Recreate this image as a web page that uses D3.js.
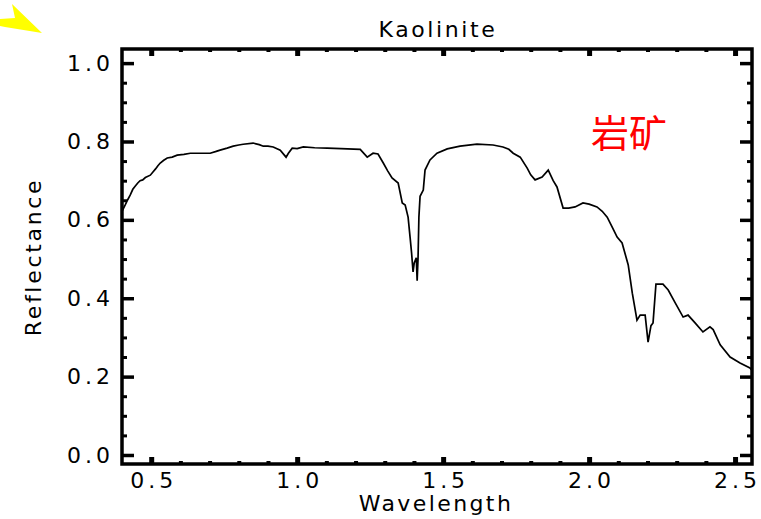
<!DOCTYPE html>
<html>
<head>
<meta charset="utf-8">
<script src="https://cdn.jsdelivr.net/npm/d3@7/dist/d3.min.js"></script>
<style>
  html, body { margin: 0; padding: 0; background: #fff; }
  svg { display: block; }
  .lbl { font-family: "DejaVu Sans", "Liberation Sans", sans-serif; font-weight: normal; font-size: 22px; fill: #000; }
</style>
</head>
<body>
<svg id="chart" width="761" height="519"></svg>
<script>
// Kaolinite reflectance spectrum (wavelength in µm)
const wavelength = [
  0.400, 0.411, 0.420, 0.428, 0.437, 0.445, 0.454, 0.462, 0.471, 0.480,
  0.497, 0.506, 0.515, 0.523, 0.531, 0.543, 0.555, 0.572, 0.589, 0.612,
  0.634, 0.670, 0.702, 0.720, 0.736, 0.760, 0.781, 0.800, 0.815, 0.849,
  0.870, 0.884, 0.900, 0.918, 0.942, 0.962, 0.970, 0.983, 1.000, 1.021,
  1.060, 1.103, 1.150, 1.216, 1.240, 1.260, 1.277, 1.295, 1.310, 1.325,
  1.346, 1.360, 1.370, 1.380, 1.387, 1.392, 1.397, 1.401, 1.408, 1.411,
  1.414, 1.417, 1.421, 1.432, 1.438, 1.455, 1.479, 1.514, 1.558, 1.616,
  1.671, 1.705, 1.725, 1.740, 1.764, 1.788, 1.800, 1.815, 1.839, 1.860,
  1.877, 1.890, 1.911, 1.930, 1.952, 1.979, 2.000, 2.027, 2.045, 2.062,
  2.080, 2.096, 2.113, 2.134, 2.148, 2.164, 2.175, 2.192, 2.202, 2.212,
  2.219, 2.229, 2.253, 2.271, 2.295, 2.322, 2.339, 2.363, 2.390, 2.414,
  2.425, 2.449, 2.483, 2.517, 2.551, 2.556
];
const reflectance = [
  0.622, 0.638, 0.652, 0.663, 0.678, 0.686, 0.694, 0.700, 0.702, 0.708,
  0.714, 0.722, 0.730, 0.738, 0.745, 0.752, 0.758, 0.760, 0.765, 0.767,
  0.770, 0.770, 0.770, 0.774, 0.778, 0.783, 0.788, 0.791, 0.793, 0.796,
  0.792, 0.788, 0.788, 0.786, 0.778, 0.760, 0.770, 0.783, 0.782, 0.786,
  0.784, 0.783, 0.782, 0.780, 0.760, 0.770, 0.768, 0.745, 0.725, 0.707,
  0.694, 0.643, 0.638, 0.607, 0.554, 0.515, 0.467, 0.490, 0.503, 0.445,
  0.500, 0.607, 0.660, 0.676, 0.727, 0.753, 0.770, 0.781, 0.788, 0.793,
  0.791, 0.786, 0.780, 0.770, 0.760, 0.732, 0.715, 0.702, 0.709, 0.727,
  0.700, 0.684, 0.630, 0.630, 0.633, 0.643, 0.640, 0.633, 0.622, 0.607,
  0.580, 0.556, 0.541, 0.485, 0.413, 0.344, 0.357, 0.357, 0.288, 0.330,
  0.337, 0.436, 0.436, 0.421, 0.388, 0.352, 0.357, 0.337, 0.314, 0.327,
  0.320, 0.281, 0.250, 0.235, 0.222, 0.218
];

const xMajorTicks = [0.5, 1.0, 1.5, 2.0, 2.5];
const xMinorTicks = [0.6, 0.7, 0.8, 0.9, 1.1, 1.2, 1.3, 1.4, 1.6, 1.7, 1.8, 1.9, 2.1, 2.2, 2.3, 2.4];
const yMajorTicks = [0.0, 0.2, 0.4, 0.6, 0.8, 1.0];
const yMinorTicks = [0.05, 0.1, 0.15, 0.25, 0.3, 0.35, 0.45, 0.5, 0.55, 0.65, 0.7, 0.75, 0.85, 0.9, 0.95];

const titleText = "Kaolinite";
const xTitle = "Wavelength";
const yTitle = "Reflectance";
const noteText = "岩矿";

const svg = d3.select("#chart");
const box = { left: 122, right: 752, top: 49, bottom: 464 };

const x = d3.scaleLinear().domain([0.4, 2.558]).range([box.left, box.right]);
const y = d3.scaleLinear().domain([-0.023, 1.036]).range([box.bottom, box.top]);
const fmt = d3.format(".1f");

// pointer arrow in the corner
svg.append("polygon")
  .attr("points", "0,19 15,18 12,4 42,33 5,27 0,26")
  .attr("fill", "#ffff00");

function styleAxis(g, width) {
  g.select(".domain").remove();
  g.selectAll(".tick line").attr("stroke", "#000").attr("stroke-width", width);
}

// left axis
svg.append("g").attr("transform", `translate(${box.left},0)`)
  .call(d3.axisLeft(y).tickValues(yMinorTicks).tickSize(-5).tickFormat(""))
  .call(g => styleAxis(g, 3));
svg.append("g").attr("transform", `translate(${box.left},0)`)
  .call(d3.axisLeft(y).tickValues(yMajorTicks).tickSize(-12).tickPadding(8).tickFormat(fmt))
  .call(g => styleAxis(g, 3.5))
  .call(g => g.selectAll("text").attr("class", "lbl").attr("font-size", null).attr("font-family", null)
    .style("letter-spacing", "4px"));

// right axis
svg.append("g").attr("transform", `translate(${box.right},0)`)
  .call(d3.axisRight(y).tickValues(yMinorTicks).tickSize(-5).tickFormat(""))
  .call(g => styleAxis(g, 3));
svg.append("g").attr("transform", `translate(${box.right},0)`)
  .call(d3.axisRight(y).tickValues(yMajorTicks).tickSize(-12).tickFormat(""))
  .call(g => styleAxis(g, 3.5));

// bottom axis
svg.append("g").attr("transform", `translate(0,${box.bottom})`)
  .call(d3.axisBottom(x).tickValues(xMinorTicks).tickSize(-3).tickFormat(""))
  .call(g => styleAxis(g, 4));
svg.append("g").attr("transform", `translate(0,${box.bottom})`)
  .call(d3.axisBottom(x).tickValues(xMajorTicks).tickSize(-7).tickPadding(8).tickFormat(fmt))
  .call(g => styleAxis(g, 5))
  .call(g => g.selectAll("text").attr("class", "lbl").attr("font-size", null).attr("font-family", null)
    .style("letter-spacing", "4px").attr("dx", "2"));

// top axis
svg.append("g").attr("transform", `translate(0,${box.top})`)
  .call(d3.axisTop(x).tickValues(xMinorTicks).tickSize(-3).tickFormat(""))
  .call(g => styleAxis(g, 4));
svg.append("g").attr("transform", `translate(0,${box.top})`)
  .call(d3.axisTop(x).tickValues(xMajorTicks).tickSize(-7).tickFormat(""))
  .call(g => styleAxis(g, 5));

// plot frame
svg.append("rect")
  .attr("x", box.left).attr("y", box.top)
  .attr("width", box.right - box.left).attr("height", box.bottom - box.top)
  .attr("fill", "none").attr("stroke", "#000").attr("stroke-width", 3.5);

// spectrum
const pts = wavelength.map((w, i) => [w, reflectance[i]]);
svg.append("path")
  .datum(pts)
  .attr("fill", "none")
  .attr("stroke", "#000")
  .attr("stroke-width", 1.7)
  .attr("stroke-linejoin", "miter")
  .attr("d", d3.line().x(d => x(d[0])).y(d => y(d[1])));

// titles
svg.append("text").attr("class", "lbl")
  .attr("x", 438).attr("y", 37).attr("text-anchor", "middle")
  .style("letter-spacing", "2.6px").text(titleText);
svg.append("text").attr("class", "lbl")
  .attr("x", 436).attr("y", 511).attr("text-anchor", "middle")
  .style("letter-spacing", "2.4px").text(xTitle);
svg.append("text").attr("class", "lbl")
  .attr("transform", "translate(41,257) rotate(-90)")
  .attr("text-anchor", "middle")
  .style("letter-spacing", "2.7px").text(yTitle);

// annotation
svg.append("text")
  .attr("x", 591).attr("y", 147)
  .attr("font-family", "'Noto Sans CJK SC', sans-serif")
  .attr("font-size", 38)
  .attr("fill", "#ff0000")
  .text(noteText);
</script>
</body>
</html>
